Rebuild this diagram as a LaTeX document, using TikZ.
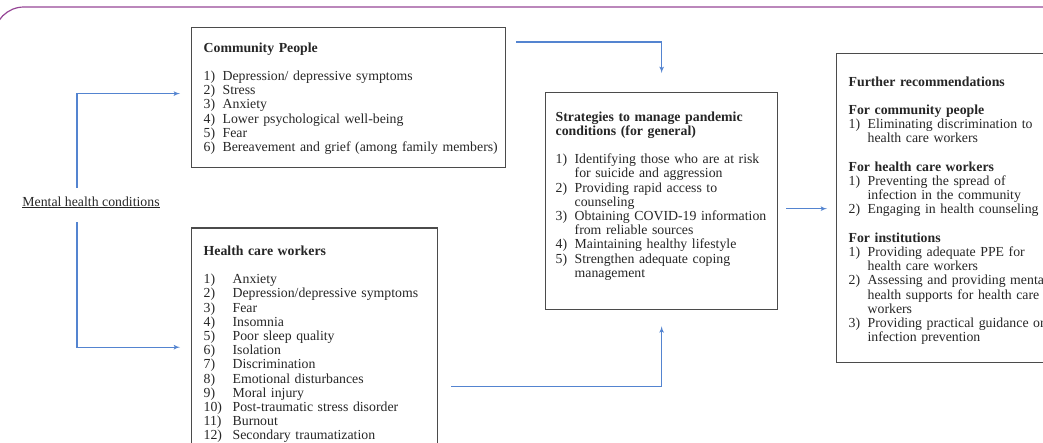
\documentclass[tikz,border=0pt]{standalone}
\usepackage{fontspec}
\setmainfont{Liberation Serif}
\usepackage{tikz}
\usetikzlibrary{arrows}
\usetikzlibrary{positioning}

\definecolor{linkblue}{RGB}{84,132,208}
\definecolor{framepurple}{RGB}{150,70,150}
\definecolor{boxgray}{RGB}{75,75,75}

\newcommand{\itm}[3][19pt]{\par\hangindent=#1\hangafter=1\noindent\makebox[#1][l]{#2}#3\par}
\newcommand{\topgap}[1]{\rule{0pt}{#1}}
\newcommand{\botgap}[1]{\rule[-#1]{0pt}{#1}}

\begin{document}
\begin{tikzpicture}[x=1pt,y=-1pt,->,>=latex',thick,
  box node/.style={rectangle,draw=boxgray,line width=1.3pt,anchor=north west,align=left,
    inner xsep=12pt,inner ysep=0pt,text=black!85,font=\fontsize{13.8}{14.2}\selectfont},
  flow/.style={draw=linkblue,line width=1.2pt}]

  \path[use as bounding box] (0,0) rectangle (1043,442);
  \clip (0,0) rectangle (1043,442);
  \draw[-,framepurple,line width=1.2pt,rounded corners=30pt] (-6,80) |- (1050,7);

  \node[anchor=base west,inner sep=0pt,text=black!85,font=\fontsize{13.8}{14.2}\selectfont] (0) at (22,206) {\underline{Mental health conditions}};

  \node[box node,text width=290pt] (1) at (191,27) {%
    \noindent\topgap{24.5pt}\textbf{Community People}\par\vspace{14.2pt}
    \itm{1)}{Depression/ depressive symptoms}
    \itm{2)}{Stress}
    \itm{3)}{Anxiety}
    \itm{4)}{Lower psychological well-being}
    \itm{5)}{Fear}
    \itm{6)}{\mbox{Bereavement and grief (among family members)}\botgap{16pt}}};

  \node[box node,text width=222pt] (2) [below=59pt of 1.south west,anchor=north west] {%
    \noindent\topgap{27.5pt}\textbf{Health care workers}\par\vspace{14.2pt}
    \itm[29pt]{1)}{Anxiety}
    \itm[29pt]{2)}{Depression/depressive symptoms}
    \itm[29pt]{3)}{Fear}
    \itm[29pt]{4)}{Insomnia}
    \itm[29pt]{5)}{Poor sleep quality}
    \itm[29pt]{6)}{Isolation}
    \itm[29pt]{7)}{Discrimination}
    \itm[29pt]{8)}{Emotional disturbances}
    \itm[29pt]{9)}{Moral injury}
    \itm[29pt]{10)}{Post-traumatic stress disorder}
    \itm[29pt]{11)}{Burnout}
    \itm[29pt]{12)}{Secondary traumatization\botgap{20pt}}};

  \node[box node,inner xsep=10pt,text width=212pt] (3) at (545,92) {%
    \noindent\topgap{28.5pt}\textbf{Strategies to manage pandemic}\newline
    \textbf{conditions (for general)}\par\vspace{14.2pt}
    \itm{1)}{Identifying those who are at risk\newline for suicide and aggression}
    \itm{2)}{Providing rapid access to\newline counseling}
    \itm{3)}{Obtaining COVID-19 information\newline from reliable sources}
    \itm{4)}{Maintaining healthy lifestyle}
    \itm{5)}{Strengthen adequate coping\newline management\botgap{32.3pt}}};

  \node[box node,text width=215pt] (4) at (836,53) {%
    \noindent\topgap{32.5pt}\textbf{Further recommendations}\par\vspace{14.2pt}
    \noindent\textbf{For community people}\par
    \itm{1)}{Eliminating discrimination to\newline health care workers}
    \vspace{14.2pt}
    \noindent\textbf{For health care workers}\par
    \itm{1)}{Preventing the spread of\newline infection in the community}
    \itm{2)}{Engaging in health counseling}
    \vspace{14.2pt}
    \noindent\textbf{For institutions}\par
    \itm{1)}{Providing adequate PPE for\newline health care workers}
    \itm{2)}{Assessing and providing mental\newline health supports for health care\newline workers}
    \itm{3)}{Providing practical guidance on\newline infection prevention\botgap{20.9pt}}};

  \coordinate (3a) at ([xshift=8pt,yshift=-7.5pt]3.east);

  \draw[flow,shorten >=11pt] ([xshift=55pt,yshift=8.5pt]0.north west) |- ([yshift=4pt]1.west);
  \draw[flow,shorten >=11pt] ([xshift=55pt,yshift=-13.5pt]0.south west) |- ([yshift=-120pt]2.north west);
  \draw[flow,shorten >=19pt] ([xshift=10pt,yshift=-15pt]1.north east) -| (3.north);
  \draw[flow,shorten >=16pt] ([xshift=13pt,yshift=-159pt]2.north east) -| (3.south);
  \draw[flow,shorten >=9pt] (3a) -- (3a -| 4.west);
\end{tikzpicture}
\end{document}
